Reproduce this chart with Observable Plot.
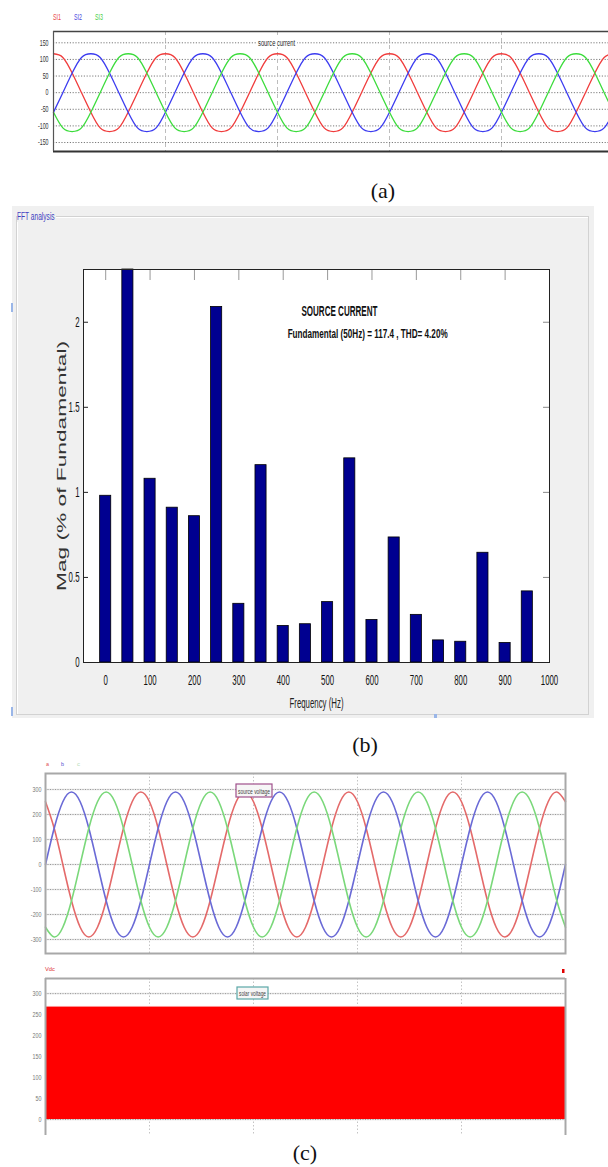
<!DOCTYPE html>
<html>
<head>
<meta charset="utf-8">
<script src="https://cdn.jsdelivr.net/npm/d3@7"></script>
<script src="https://cdn.jsdelivr.net/npm/@observablehq/plot@0.6"></script>
<style>
  html,body{margin:0;padding:0;background:#fff;}
  #page{position:relative;width:608px;height:1167px;overflow:hidden;background:#fff;}
  .layer{position:absolute;left:0;}
  #fftPanel{position:absolute;left:12px;top:206px;width:582px;height:512px;background:#f0f0f0;}
  #fftBox{position:absolute;left:16px;top:216px;width:571px;height:497px;border:1px solid #d2d2d2;box-shadow:inset 1px 1px 0 #fff;}
  #fftTitle{position:absolute;left:17px;top:210px;font:11px "Liberation Sans",Arial,sans-serif;color:#4040c0;background:#f0f0f0;transform:scaleX(0.6);transform-origin:0 0;white-space:nowrap;padding-right:2px;line-height:12px;}
  .blip{position:absolute;background:#9ab6e8;}
</style>
</head>
<body>
<div id="page">
  <div id="fftPanel"></div>
  <div id="fftBox"></div>
  <div id="fftTitle">FFT analysis</div>
  <div class="blip" style="left:11px;top:303px;width:2px;height:9px;"></div>
  <div class="blip" style="left:11px;top:707px;width:2px;height:9px;"></div>
  <div class="blip" style="left:434px;top:714px;width:3px;height:4px;"></div>
</div>
<script>
// ---------- shared time base (ms) ----------
const timeMs = [0,1.667,3.333,5,6.667,8.333,10,11.667,13.333,15,16.667,18.333,
  20,21.667,23.333,25,26.667,28.333,30,31.667,33.333,35,36.667,38.333,
  40,41.667,43.333,45,46.667,48.333,50,51.667,53.333,55,56.667,58.333,
  60,61.667,63.333,65,66.667,68.333,70,71.667,73.333,75,76.667,78.333,
  80,81.667,83.333,85,86.667,88.333,90,91.667,93.333,95,96.667,98.333,100];
const gridTimesMs = [20,40,60,80];

// ---------- (a) source current ----------
const legendA = ["SI1","SI2","SI3"];
const titleA = "source current";
const si1 = [117,106,59,0,-59,-106,-117,-106,-59,0,59,106,
  117,106,59,0,-59,-106,-117,-106,-59,0,59,106,
  117,106,59,0,-59,-106,-117,-106,-59,0,59,106,
  117,106,59,0,-59,-106,-117,-106,-59,0,59,106,
  117,106,59,0,-59,-106,-117,-106,-59,0,59,106,117];
const si2 = [-59,0,59,106,117,106,59,0,-59,-106,-117,-106,
  -59,0,59,106,117,106,59,0,-59,-106,-117,-106,
  -59,0,59,106,117,106,59,0,-59,-106,-117,-106,
  -59,0,59,106,117,106,59,0,-59,-106,-117,-106,
  -59,0,59,106,117,106,59,0,-59,-106,-117,-106,-59];
const si3 = [-59,-106,-117,-106,-59,0,59,106,117,106,59,0,
  -59,-106,-117,-106,-59,0,59,106,117,106,59,0,
  -59,-106,-117,-106,-59,0,59,106,117,106,59,0,
  -59,-106,-117,-106,-59,0,59,106,117,106,59,0,
  -59,-106,-117,-106,-59,0,59,106,117,106,59,0,-59];
const yTicksA = [150,100,50,0,-50,-100,-150];
const yTickLabelsA = ["150","100","50","0","-50","-100","-150"];

// ---------- (b) FFT ----------
const freqHz = [0,50,100,150,200,250,300,350,400,450,500,550,600,650,700,750,800,850,900,950];
const magPct = [0.98,2.31,1.08,0.91,0.86,2.09,0.345,1.16,0.215,0.225,0.355,1.20,0.25,0.735,0.28,0.13,0.122,0.645,0.115,0.418];
const xTicksB = [0,100,200,300,400,500,600,700,800,900,1000];
const xTickLabelsB = ["0","100","200","300","400","500","600","700","800","900","1000"];
const yTicksB = [0,0.5,1,1.5,2];
const yTickLabelsB = ["0","0.5","1","1.5","2"];
const titleB = "SOURCE CURRENT";
const infoB = "Fundamental (50Hz) = 117.4 , THD= 4.20%";
const xLabelB = "Frequency (Hz)";
const yLabelB = "Mag (% of Fundamental)";

// ---------- (c) source voltage / solar voltage ----------
const legendC = ["a","b","c"];
const titleC1 = "source voltage";
const vsA = [251,145,0,-145,-251,-290,-251,-145,0,145,251,290,
  251,145,0,-145,-251,-290,-251,-145,0,145,251,290,
  251,145,0,-145,-251,-290,-251,-145,0,145,251,290,
  251,145,0,-145,-251,-290,-251,-145,0,145,251,290,
  251,145,0,-145,-251,-290,-251,-145,0,145,251,290,251];
const vsB = [0,145,251,290,251,145,0,-145,-251,-290,-251,-145,
  0,145,251,290,251,145,0,-145,-251,-290,-251,-145,
  0,145,251,290,251,145,0,-145,-251,-290,-251,-145,
  0,145,251,290,251,145,0,-145,-251,-290,-251,-145,
  0,145,251,290,251,145,0,-145,-251,-290,-251,-145,0];
const vsC = [-251,-290,-251,-145,0,145,251,290,251,145,0,-145,
  -251,-290,-251,-145,0,145,251,290,251,145,0,-145,
  -251,-290,-251,-145,0,145,251,290,251,145,0,-145,
  -251,-290,-251,-145,0,145,251,290,251,145,0,-145,
  -251,-290,-251,-145,0,145,251,290,251,145,0,-145,-251];
const yTicksC = [300,200,100,0,-100,-200,-300];
const yTickLabelsC = ["300","200","100","0","-100","-200","-300"];
const legendVdc = "Vdc";
const titleC2 = "solar voltage";
const vdcTimeMs = [0,100];
const vdcVolts = [267,267];
const yTicksVdc = [300,250,200,150,100,50,0];
const yTickLabelsVdc = ["300","250","200","150","100","50","0"];

const captions = ["(a)","(b)","(c)"];

// ---------- helpers ----------
const sans = "'Liberation Sans', Arial, sans-serif";
const serif = "'Liberation Serif', 'Times New Roman', serif";
const page = document.getElementById("page");
function mount(el, top) {
  const d = document.createElement("div");
  d.className = "layer"; d.style.top = top + "px";
  d.appendChild(el); page.appendChild(d); return el;
}
function squish(svg, factor, fixed) {
  fixed = fixed || {};
  svg.querySelectorAll("text").forEach(t => {
    const s = t.textContent;
    const L = (s in fixed) ? fixed[s] : t.getComputedTextLength() * factor;
    if (L > 0) { t.setAttribute("textLength", L.toFixed(2)); t.setAttribute("lengthAdjust", "spacingAndGlyphs"); }
  });
}
const fmt = (ticks, labels) => d => labels[ticks.indexOf(d)];

// ---------- (a) ----------
const plotA = Plot.plot({
  width: 613, height: 160,
  marginLeft: 53, marginRight: 0, marginTop: 31, marginBottom: 9,
  x: {domain: [0, 100], axis: null},
  y: {domain: [-177, 184]},
  style: {background: "transparent", maxWidth: "none", overflow: "visible", fontFamily: sans, fontSize: "8.5px"},
  marks: [
    Plot.ruleY(yTicksA, {stroke: "#7a7a7a", strokeDasharray: "1.2,1.6", strokeWidth: 1}),
    Plot.ruleX(gridTimesMs, {stroke: "#bdbdbd", strokeDasharray: "4,3", strokeWidth: 1}),
    Plot.lineY(si1, {x: timeMs, stroke: "#f03c3c", strokeWidth: 1.3, curve: "natural"}),
    Plot.lineY(si2, {x: timeMs, stroke: "#3c3cf0", strokeWidth: 1.3, curve: "natural"}),
    Plot.lineY(si3, {x: timeMs, stroke: "#3cdc3c", strokeWidth: 1.3, curve: "natural"}),
    Plot.ruleY([184], {stroke: "#444", strokeWidth: 1.4}),
    Plot.ruleY([-177], {stroke: "#333", strokeWidth: 2}),
    Plot.ruleX([0], {stroke: "#555", strokeWidth: 1.2}),
    Plot.axisY(yTicksA, {anchor: "left", tickSize: 0, tickPadding: 5, label: null,
      tickFormat: fmt(yTicksA, yTickLabelsA), fill: "#333", fontSize: 8.5})
  ]
});
mount(plotA, 0);
squish(plotA, 0.62);

// ---------- (b) ----------
const barsB = freqHz.map((f, i) => ({f, m: magPct[i]}));
const frameW = 608 - 83 - 59, frameH = 530 - 69 - 68;
const plotB = Plot.plot({
  width: 608, height: 530,
  marginLeft: 83, marginRight: 59, marginTop: 69, marginBottom: 68,
  x: {domain: [-50, 1000]},
  y: {domain: [0, 2.31]},
  style: {background: "transparent", overflow: "visible", fontFamily: sans, fontSize: "14px", color: "#111"},
  marks: [
    Plot.frame({fill: "white", stroke: "white"}),
    Plot.rectY(barsB, {x1: d => d.f - 12.5, x2: d => d.f + 12.5, y: "m", fill: "#000090", stroke: "#000", strokeWidth: 0.8}),
    Plot.tickX(xTicksB, {x: d => d, stroke: "#999", insetBottom: frameH - 11}),
    Plot.tickY(yTicksB, {y: d => d, stroke: "#222", insetRight: frameW - 5}),
    Plot.tickY(yTicksB, {y: d => d, stroke: "#888", insetLeft: frameW - 6}),
    Plot.frame({stroke: "#222"}),
    Plot.axisX(xTicksB, {anchor: "bottom", tickSize: 0, tickPadding: 13, label: null,
      tickFormat: fmt(xTicksB, xTickLabelsB), fontSize: 14}),
    Plot.axisY(yTicksB, {anchor: "left", tickSize: 0, tickPadding: 4, label: null,
      tickFormat: fmt(yTicksB, yTickLabelsB), fontSize: 14}),
    Plot.text([yLabelB], {frameAnchor: "left", dx: -21, rotate: -90, fontSize: 12, textAnchor: "middle", lineAnchor: "middle", fill: "#333"}),
    Plot.text([xLabelB], {frameAnchor: "bottom", dy: 45, fontSize: 14, textAnchor: "middle", lineAnchor: "bottom", fill: "#222"}),
    Plot.text([titleB], {x: 441, y: 2.034, textAnchor: "start", lineAnchor: "bottom", fontWeight: "bold", fontSize: 14}),
    Plot.text([infoB], {x: 410, y: 1.905, textAnchor: "start", lineAnchor: "bottom", fontWeight: "bold", fontSize: 13})
  ]
});
mount(plotB, 200);
squish(plotB, 0.56, {[yLabelB]: 250, [titleB]: 76, [infoB]: 160});

// ---------- (c) top ----------
const plotC1 = Plot.plot({
  width: 608, height: 200,
  marginLeft: 45, marginRight: 43, marginTop: 13, marginBottom: 7,
  x: {domain: [0, 100], axis: null},
  y: {domain: [-356, 364]},
  style: {background: "transparent", overflow: "visible", fontFamily: sans, fontSize: "7px"},
  marks: [
    Plot.ruleY(yTicksC, {stroke: "#e2e2e2", strokeWidth: 1.5}),
    Plot.ruleY(yTicksC, {stroke: "#9a9a9a", strokeDasharray: "1,1.5", strokeWidth: 1}),
    Plot.ruleX(gridTimesMs, {stroke: "#c4c4c4", strokeDasharray: "1.5,2", strokeWidth: 1}),
    Plot.lineY(vsA, {x: timeMs, stroke: "#e46a6a", strokeWidth: 1.6, curve: "natural"}),
    Plot.lineY(vsB, {x: timeMs, stroke: "#6a6ad6", strokeWidth: 1.6, curve: "natural"}),
    Plot.lineY(vsC, {x: timeMs, stroke: "#7ad87a", strokeWidth: 1.6, curve: "natural"}),
    Plot.frame({stroke: "#a8a8a8", strokeWidth: 2}),
    Plot.axisY(yTicksC, {anchor: "left", tickSize: 0, tickPadding: 4, label: null,
      tickFormat: fmt(yTicksC, yTickLabelsC), fill: "#777", fontSize: 7})
  ]
});
mount(plotC1, 760);
squish(plotC1, 0.76);

// ---------- (c) bottom ----------
const plotC2 = Plot.plot({
  width: 608, height: 180,
  marginLeft: 45, marginRight: 43, marginTop: 18, marginBottom: 5,
  x: {domain: [0, 100], axis: null},
  y: {domain: [-38, 336]},
  style: {background: "transparent", overflow: "visible", fontFamily: sans, fontSize: "7px"},
  marks: [
    Plot.ruleY(yTicksVdc, {stroke: "#e2e2e2", strokeWidth: 1.5}),
    Plot.ruleY(yTicksVdc, {stroke: "#9a9a9a", strokeDasharray: "1,1.5", strokeWidth: 1}),
    Plot.ruleX(gridTimesMs, {stroke: "#c4c4c4", strokeDasharray: "1.5,2", strokeWidth: 1}),
    Plot.areaY(vdcVolts, {x: vdcTimeMs, fill: "#ff0000"}),
    Plot.lineY(vdcVolts, {x: vdcTimeMs, stroke: "#ff8a8a", strokeWidth: 1, dy: -1}),
    Plot.ruleY([336], {stroke: "#a8a8a8", strokeWidth: 2}),
    Plot.ruleX([0, 100], {stroke: "#a8a8a8", strokeWidth: 2}),
    Plot.axisY(yTicksVdc, {anchor: "left", tickSize: 0, tickPadding: 4, label: null,
      tickFormat: fmt(yTicksVdc, yTickLabelsVdc), fill: "#777", fontSize: 7})
  ]
});
mount(plotC2, 960);
squish(plotC2, 0.76);

// ---------- overlay: legends, labels, captions ----------
const ov = d3.create("svg").attr("width", 608).attr("height", 1167)
  .style("position", "absolute").style("left", "0px").style("top", "0px").style("pointer-events", "none");
function txt(s, x, y, o) {
  const t = ov.append("text").attr("x", x).attr("y", y).text(s)
    .attr("font-family", o.family || sans).attr("font-size", o.size).attr("fill", o.fill || "#222")
    .attr("text-anchor", o.anchor || "start");
  if (o.len) t.attr("textLength", o.len).attr("lengthAdjust", "spacingAndGlyphs");
  return t;
}
// (a) legend
const legendColorsA = ["#e84848", "#4a4ae0", "#48d048"];
const legendXA = [53, 74, 95];
legendA.forEach((s, i) => txt(s, legendXA[i], 20, {size: 9, fill: legendColorsA[i], len: 8}));
// (a) label
ov.append("rect").attr("x", 256).attr("y", 37).attr("width", 41).attr("height", 10).attr("fill", "#fff");
txt(titleA, 258, 46, {size: 8.5, fill: "#222", len: 37});
// (c) legend top
const legendColorsC = ["#e05050", "#5050d0", "#b8dcb8"];
const legendXC = [46, 61, 77];
legendC.forEach((s, i) => txt(s, legendXC[i], 766, {size: 6, fill: legendColorsC[i], len: 3}));
// source voltage label box
ov.append("rect").attr("x", 236).attr("y", 784).attr("width", 36).attr("height", 13)
  .attr("fill", "#f6f6f6").attr("stroke", "#a0508c").attr("stroke-width", 1.2);
txt(titleC1, 254, 793.5, {size: 6.5, fill: "#444", anchor: "middle", len: 32});
// (c) legend bottom
txt(legendVdc, 45, 971, {size: 5.5, fill: "#e03030", len: 10});
ov.append("rect").attr("x", 562).attr("y", 969).attr("width", 2.5).attr("height", 4).attr("fill", "#e00000");
// solar voltage label box
ov.append("rect").attr("x", 237).attr("y", 987).attr("width", 31).attr("height", 12)
  .attr("fill", "#f6f6f6").attr("stroke", "#5aa7a7").attr("stroke-width", 1.2);
txt(titleC2, 252.5, 995.5, {size: 6.5, fill: "#444", anchor: "middle", len: 27});
// captions
const capX = [383, 365, 305], capY = [198, 752, 1160];
captions.forEach((s, i) => txt(s, capX[i], capY[i], {size: 22, family: serif, fill: "#111", anchor: "middle"}));
page.appendChild(ov.node());
</script>
</body>
</html>
